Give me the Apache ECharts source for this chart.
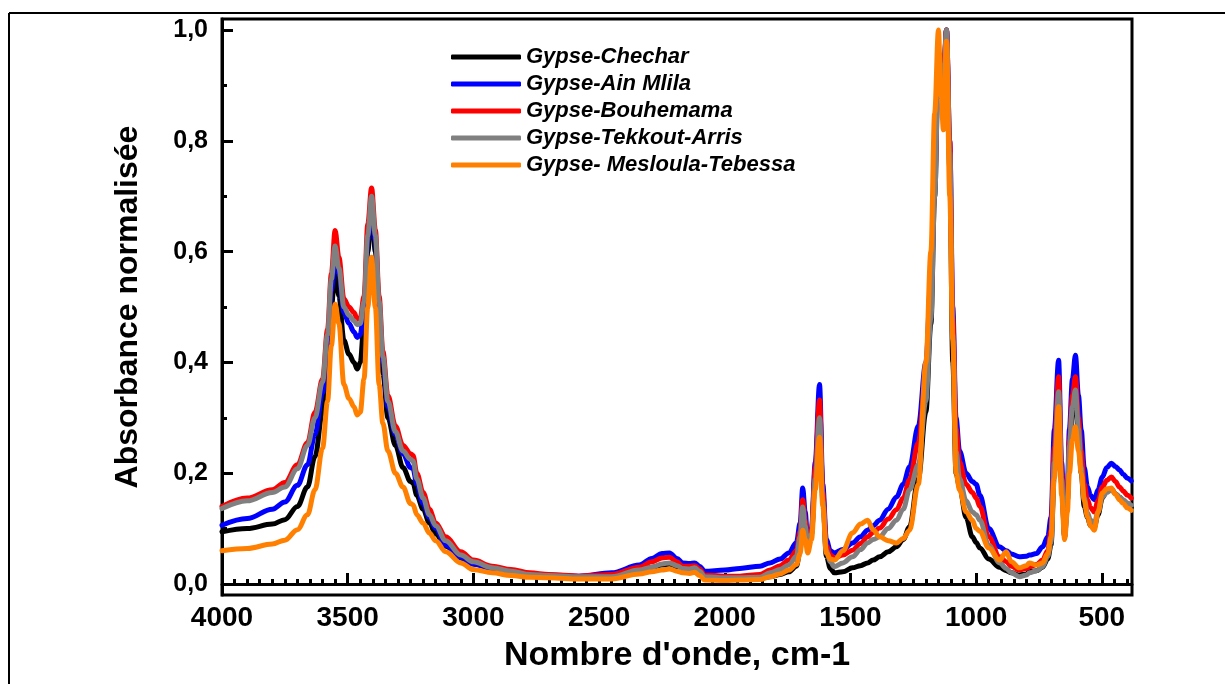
<!DOCTYPE html>
<html><head><meta charset="utf-8">
<script src="https://cdn.jsdelivr.net/npm/echarts@6/dist/echarts.min.js"></script>
<style>html,body{margin:0;padding:0;background:#fff}#c{width:1225px;height:684px}</style>
</head><body><div id="c"></div>
<script>
const wavenumbers = [4000,3900,3800,3750,3700,3660,3630,3600,3580,3565,
3550,3535,3515,3495,3475,3462,3450,3435,3420,3405,
3390,3375,3360,3340,3310,3280,3250,3240,3225,3200,
3175,3150,3110,3050,3000,2925,2850,2775,2700,2580,
2450,2340,2290,2250,2220,2190,2168,2140,2120,2100,
2080,2000,1940,1860,1820,1780,1745,1715,1700,1690,
1680,1670,1655,1640,1623,1610,1596,1580,1564,1530,
1492,1460,1432,1410,1384,1350,1317,1290,1265,1230,
1200,1180,1165,1150,1140,1130,1118,1105,1093,1080,
1066,1040,1015,1000,985,950,907,880,860,828,
800,788,760,736,715,702,689,672,660,648,
637,629,617,605,593,582,570,557,545,530,
515,498,480,462,446,430,415,398,383];

const chechar = [.094,.10,.108,.116,.14,.175,.23,.31,.40,.50,
.565,.52,.44,.415,.40,.388,.40,.47,.60,.685,
.60,.48,.38,.30,.25,.21,.185,.182,.16,.135,
.11,.09,.068,.047,.036,.028,.022,.018,.015,.013,
.014,.024,.03,.034,.036,.031,.026,.024,.025,.02,
.011,.009,.009,.011,.013,.017,.022,.032,.06,.145,
.10,.07,.09,.20,.33,.16,.05,.028,.02,.022,
.029,.033,.038,.043,.049,.058,.067,.08,.103,.19,
.31,.47,.70,.94,.92,.90,1.0,.75,.40,.20,
.175,.12,.085,.075,.065,.045,.03,.024,.02,.016,
.018,.022,.024,.03,.045,.07,.20,.33,.18,.085,
.15,.24,.31,.33,.27,.20,.14,.12,.105,.103,
.125,.155,.17,.172,.163,.157,.15,.142,.138];

const ainMlila = [.106,.118,.135,.148,.178,.215,.27,.345,.43,.53,
.59,.56,.49,.47,.455,.445,.45,.50,.62,.69,
.62,.50,.40,.32,.27,.235,.21,.208,.18,.145,
.12,.10,.07,.048,.036,.028,.022,.018,.016,.014,
.02,.034,.046,.055,.056,.046,.038,.037,.038,.032,
.023,.025,.028,.032,.038,.045,.056,.075,.11,.173,
.13,.074,.10,.22,.36,.18,.08,.06,.056,.062,
.074,.085,.097,.105,.115,.135,.157,.18,.211,.285,
.40,.55,.75,.96,.93,.90,1.0,.80,.50,.30,
.24,.20,.185,.18,.16,.10,.067,.06,.054,.049,
.05,.052,.055,.067,.085,.121,.278,.404,.22,.09,
.17,.28,.37,.413,.34,.278,.21,.175,.16,.152,
.17,.193,.21,.218,.212,.206,.198,.191,.186];

const bouhemama = [.14,.155,.17,.183,.215,.255,.31,.37,.46,.56,
.638,.59,.515,.50,.49,.478,.48,.52,.65,.715,
.64,.52,.42,.34,.285,.25,.235,.232,.20,.165,
.135,.11,.085,.058,.043,.032,.026,.02,.017,.014,
.017,.03,.04,.047,.048,.04,.032,.032,.033,.027,
.016,.014,.014,.017,.025,.033,.043,.06,.095,.152,
.115,.068,.095,.21,.332,.165,.07,.052,.047,.052,
.061,.073,.085,.093,.101,.117,.134,.155,.188,.255,
.37,.52,.72,.96,.95,.92,1.0,.80,.48,.28,
.22,.18,.165,.155,.14,.085,.049,.04,.032,.025,
.028,.031,.035,.043,.06,.097,.247,.374,.20,.087,
.16,.26,.34,.374,.30,.24,.18,.152,.138,.13,
.15,.175,.187,.193,.185,.175,.168,.16,.155];

const tekkoutArris = [.136,.15,.165,.175,.208,.25,.30,.365,.45,.55,
.61,.57,.50,.485,.475,.468,.47,.51,.63,.70,
.63,.51,.41,.33,.275,.24,.225,.222,.19,.155,
.125,.105,.078,.052,.04,.029,.023,.017,.015,.013,
.013,.025,.03,.036,.038,.033,.028,.027,.029,.023,
.013,.011,.011,.012,.02,.026,.034,.05,.085,.139,
.105,.064,.09,.19,.30,.15,.06,.04,.031,.038,
.049,.062,.074,.08,.085,.10,.115,.135,.17,.215,
.33,.48,.70,.95,.93,.90,1.0,.78,.45,.24,
.19,.15,.13,.125,.115,.07,.038,.028,.02,.013,
.016,.02,.024,.031,.05,.074,.22,.347,.19,.085,
.15,.25,.32,.35,.28,.21,.155,.128,.115,.11,
.13,.157,.165,.17,.163,.157,.152,.146,.142];

const mesloulaTebessa = [.06,.064,.072,.079,.098,.125,.17,.245,.33,.43,
.505,.47,.36,.335,.32,.305,.31,.37,.50,.59,
.50,.36,.29,.24,.20,.175,.145,.143,.125,.11,
.092,.078,.058,.038,.026,.02,.015,.012,.011,.009,
.009,.018,.022,.025,.027,.023,.02,.019,.021,.015,
.007,.006,.007,.008,.013,.018,.025,.035,.055,.097,
.08,.056,.08,.17,.265,.14,.056,.045,.043,.06,
.092,.108,.115,.098,.085,.078,.074,.082,.097,.18,
.40,.60,.85,1.0,.88,.82,.98,.70,.44,.20,
.17,.13,.115,.10,.095,.065,.043,.058,.04,.029,
.033,.038,.034,.038,.055,.085,.19,.32,.16,.08,
.13,.20,.26,.284,.24,.20,.15,.121,.105,.097,
.13,.164,.172,.173,.162,.152,.145,.137,.133];

const seriesNames = ['Gypse-Chechar','Gypse-Ain Mlila','Gypse-Bouhemama','Gypse-Tekkout-Arris','Gypse- Mesloula-Tebessa'];
const seriesValues = [chechar, ainMlila, bouhemama, tekkoutArris, mesloulaTebessa];
const seriesColors = ['#000000','#0000ff','#ff0000','#808080','#ff8000'];

const yTickLabels = [0, 0.2, 0.4, 0.6, 0.8, 1.0];
const yMinorTicks = [0.1, 0.3, 0.5, 0.7, 0.9];
const xTickLabels = [500, 1000, 1500, 2000, 2500, 3000, 3500, 4000];
const xMinorTicks = [];
for (let w = 400; w < 4000; w += 50) { if (w % 500 !== 0) xMinorTicks.push(w); }

const FONT = "'Liberation Sans', Arial, Helvetica, sans-serif";
const X_MIN = 380, X_MAX = 4000, Y_MIN = -0.02, Y_MAX = 1.02;

const chart = echarts.init(document.getElementById('c'), null, {renderer: 'canvas'});

const tickStyle = {color: '#000', width: 3};
const option = {
  backgroundColor: '#fff',
  animation: false,
  grid: {left: 222, right: 93, top: 19, bottom: 89, show: true, borderColor: '#000', borderWidth: 3, containLabel: false},
  legend: {
    orient: 'vertical', left: 451, top: 46, padding: 0, itemGap: 5,
    itemWidth: 70, itemHeight: 5, icon: 'roundRect',
    textStyle: {fontFamily: FONT, fontSize: 22, fontWeight: 'bold', fontStyle: 'italic', color: '#000', lineHeight: 22},
    data: seriesNames
  },
  xAxis: [
    {
      type: 'value', inverse: true, min: X_MIN, max: X_MAX, position: 'bottom',
      name: "Nombre d'onde, cm-1", nameLocation: 'middle', nameGap: 44,
      nameTextStyle: {fontFamily: FONT, fontSize: 34, fontWeight: 'bold', color: '#000'},
      axisLine: {show: true, lineStyle: {color: '#000', width: 3}},
      axisTick: {show: true, inside: true, length: 11, customValues: xTickLabels, lineStyle: tickStyle},
      axisLabel: {show: true, customValues: xTickLabels, margin: 9, fontFamily: FONT, fontSize: 28, fontWeight: 'bold', color: '#000',
        formatter: v => String(Math.round(v))},
      splitLine: {show: false}
    },
    {
      type: 'value', inverse: true, min: X_MIN, max: X_MAX, position: 'bottom',
      axisLine: {show: false},
      axisTick: {show: true, inside: true, length: 5, customValues: xMinorTicks, lineStyle: tickStyle},
      axisLabel: {show: false},
      splitLine: {show: false}
    }
  ],
  yAxis: [
    {
      type: 'value', min: Y_MIN, max: Y_MAX, position: 'left',
      name: 'Absorbance normalisée', nameLocation: 'middle', nameGap: 78, nameRotate: 90,
      nameTextStyle: {fontFamily: FONT, fontSize: 32, fontWeight: 'bold', color: '#000'},
      axisLine: {show: true, lineStyle: {color: '#000', width: 3}},
      axisTick: {show: true, inside: true, length: 11, customValues: yTickLabels, lineStyle: tickStyle},
      axisLabel: {show: true, customValues: yTickLabels, margin: 14, fontFamily: FONT, fontSize: 25, fontWeight: 'bold', color: '#000',
        formatter: v => Number(v).toFixed(1).replace('.', ',')},
      splitLine: {show: false}
    },
    {
      type: 'value', min: Y_MIN, max: Y_MAX, position: 'left',
      axisLine: {show: false},
      axisTick: {show: true, inside: true, length: 5, customValues: yMinorTicks, lineStyle: tickStyle},
      axisLabel: {show: false},
      splitLine: {show: false}
    }
  ],
  graphic: [
    {type: 'line', shape: {x1: 9, y1: 13, x2: 1225, y2: 13}, style: {stroke: '#000', lineWidth: 2}, silent: true},
    {type: 'line', shape: {x1: 9, y1: 13, x2: 9, y2: 684}, style: {stroke: '#000', lineWidth: 2}, silent: true}
  ],
  series: seriesNames.map((name, i) => ({
    name: name, type: 'line', xAxisIndex: 0, yAxisIndex: 0,
    data: wavenumbers.map((w, k) => [w, seriesValues[i][k]]),
    showSymbol: false, symbol: 'none',
    smooth: 0.35, smoothMonotone: 'x',
    color: seriesColors[i],
    lineStyle: {color: seriesColors[i], width: 5, cap: 'round', join: 'round'},
    z: 2 + i
  }))
};
chart.setOption(option);
</script>
</body></html>
